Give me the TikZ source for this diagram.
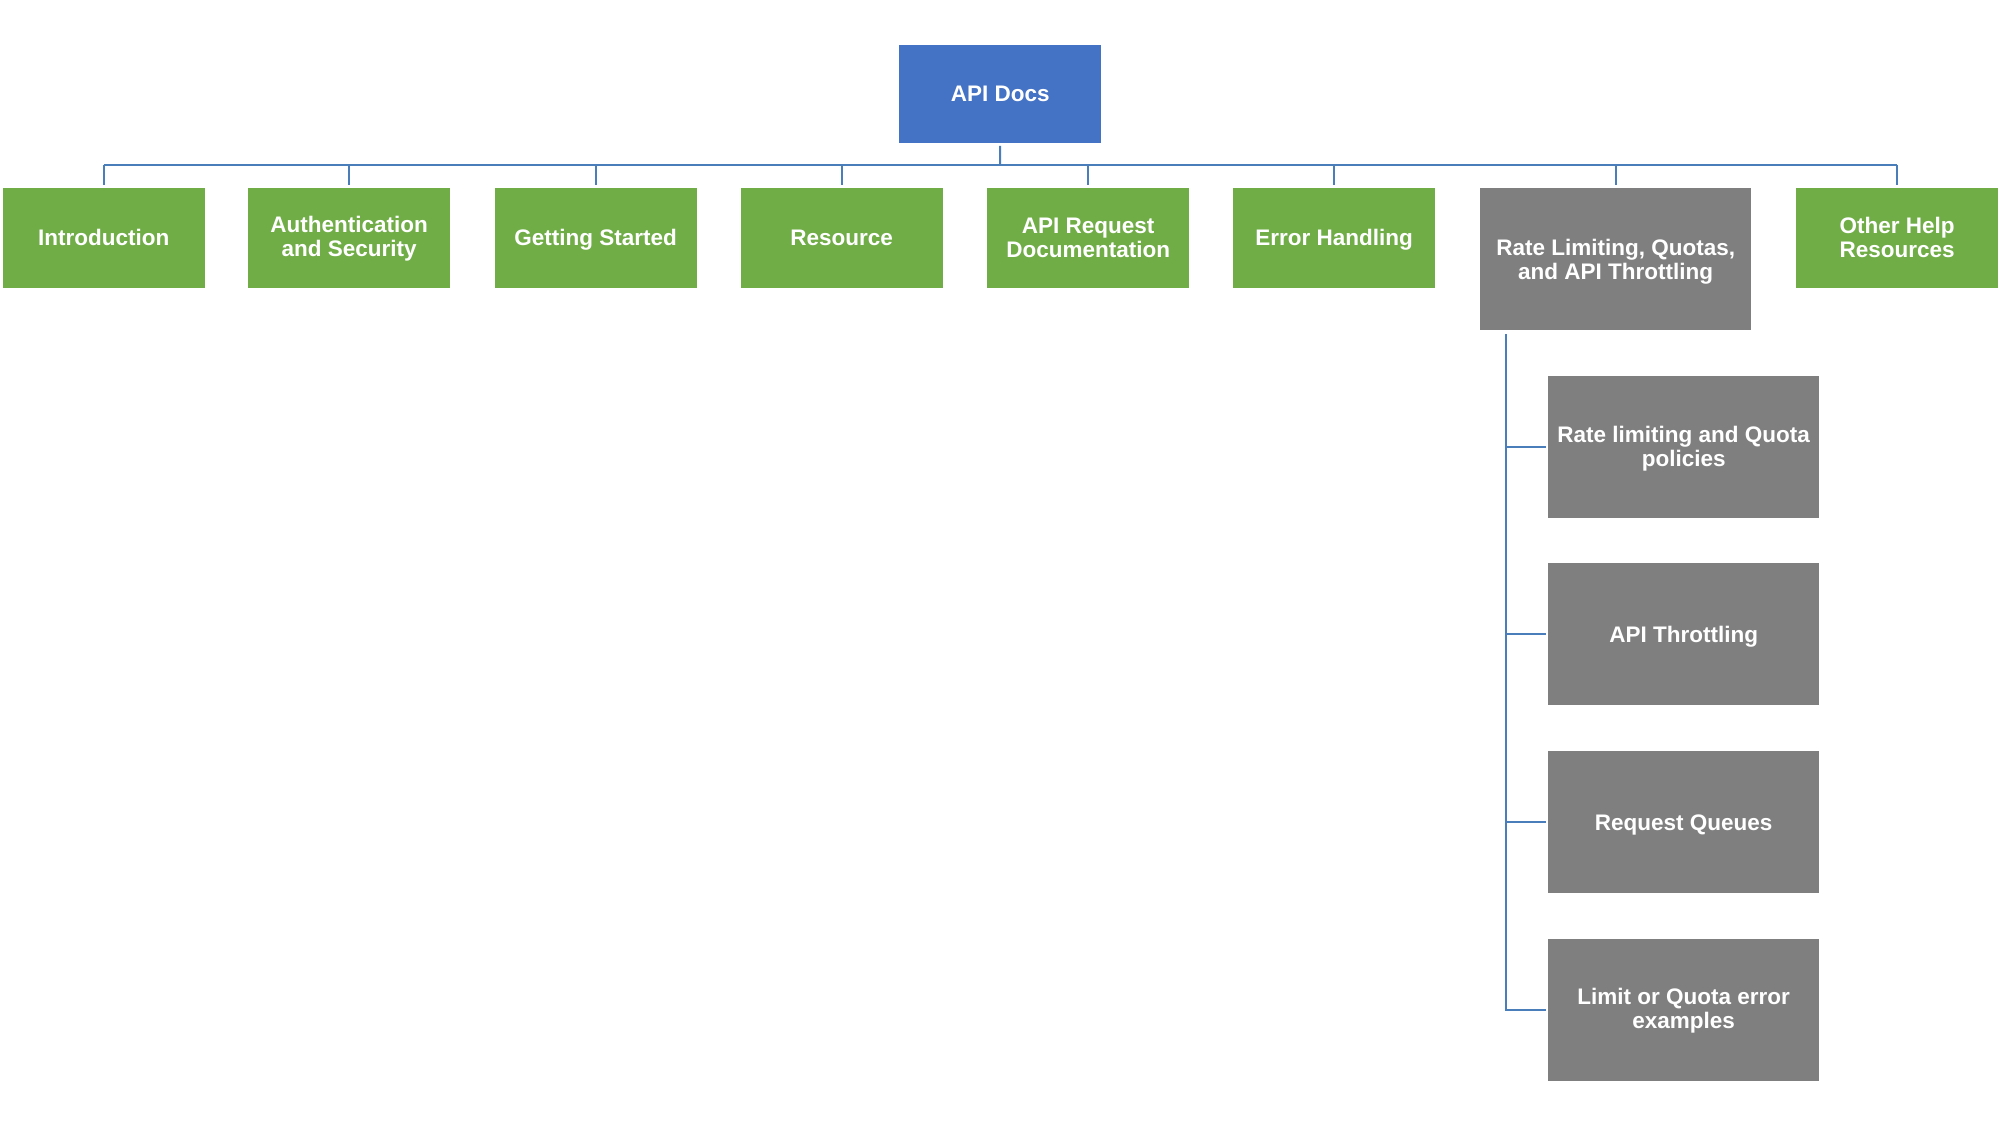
\documentclass[tikz,border=0pt]{standalone}
\usepackage{fontspec}
\setmainfont{Liberation Sans}
\definecolor{apiblue}{HTML}{4472C4}
\definecolor{topgreen}{HTML}{70AD47}
\definecolor{midgray}{HTML}{7F7F7F}
\definecolor{connblue}{HTML}{4A7EBB}
\newcommand{\lowertext}[2]{\raisebox{-#1}[\height][\depth]{\parbox{265pt}{\centering #2}}}
\begin{document}
\begin{tikzpicture}[x=1pt,y=-1pt,
  boxbase/.style={rectangle, draw=none, text=white, align=center, inner sep=0pt,
    anchor=north west, font=\bfseries\fontsize{22.5}{24}\selectfont},
  oneline/.style={text height=18.3pt, text depth=2.7pt},
  rootbox/.style={boxbase, fill=apiblue, minimum width=202pt, minimum height=98pt},
  greenbox/.style={boxbase, fill=topgreen, minimum width=202pt, minimum height=100pt},
  graybig/.style={boxbase, fill=midgray, minimum width=271pt, minimum height=142.5pt},
  graysub/.style={boxbase, fill=midgray, minimum width=271pt, minimum height=142pt},
  conn/.style={draw=connblue, line width=2pt}]
\useasboundingbox (0,0) rectangle (2000,1125);
\fill[white] (0,0) rectangle (2000,1125);

\node[rootbox, oneline] (api) at (899,44.5) {API Docs};

\node[greenbox, oneline] (intro) at (2.5,187.5) {Introduction};
\node[greenbox] (auth) at (248,187.5) {\raisebox{-1.3pt}[\height][\depth]{\parbox{200pt}{\centering Authentication\\and Security}}};
\node[greenbox, oneline] (start) at (494.5,187.5) {Getting Started};
\node[greenbox, oneline] (res) at (740.5,187.5) {Resource};
\node[greenbox] (req) at (987,187.5) {API Request\\Documentation};
\node[greenbox, oneline] (err) at (1233,187.5) {Error Handling};
\node[graybig] (rate) at (1480,187.5) {\lowertext{2.5pt}{Rate Limiting, Quotas,\\and API Throttling}};
\node[greenbox] (other) at (1796,187.5) {Other Help\\Resources};

\node[graysub] (s1) at (1548,376) {\lowertext{1.3pt}{Rate limiting and Quota\\policies}};
\node[graysub, oneline] (s2) at (1548,563) {API Throttling};
\node[graysub, oneline] (s3) at (1548,751) {Request Queues};
\node[graysub] (s4) at (1548,939) {Limit or Quota error\\examples};

\coordinate (bus) at (1000,164.5);
\coordinate (rtrunk) at (1506,334);

\draw[conn] ([yshift=-3pt]api.south) -- (bus);
\draw[conn] (bus -| intro.north) -- (bus -| other.north);
\foreach \c in {intro,auth,start,res,req,err,rate,other}
  \draw[conn] (bus -| \c.north) -- ([yshift=3pt]\c.north);

\draw[conn] (rtrunk) |- ([xshift=-2pt]s4.west);
\foreach \c in {s1,s2,s3}
  \draw[conn] (rtrunk |- \c.west) -- ([xshift=-2pt]\c.west);
\end{tikzpicture}
\end{document}
